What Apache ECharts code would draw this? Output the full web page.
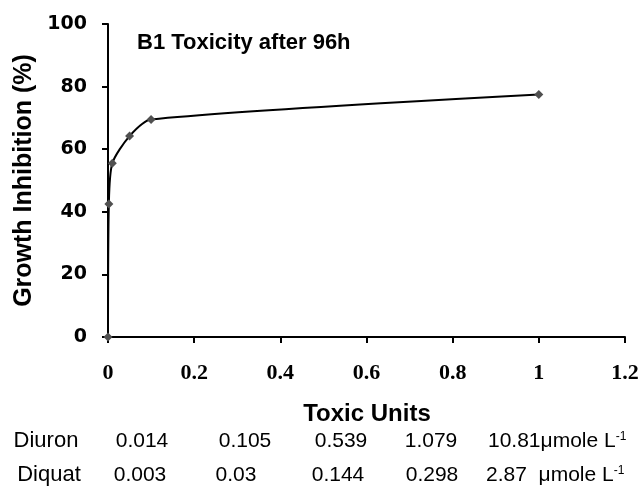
<!DOCTYPE html>
<html>
<head>
<meta charset="utf-8">
<script src="https://cdn.jsdelivr.net/npm/echarts@6/dist/echarts.min.js"></script>
<style>
html,body{margin:0;padding:0;background:#fff;}
#chart{width:643px;height:488px;}
</style>
</head>
<body>
<div id="chart"></div>
<script>
// Data
var toxicUnits = [0, 0.002, 0.01, 0.05, 0.1, 1];
var growthInhibition = [0, 42.5, 55.5, 64.2, 69.5, 77.5];
var xTicks = [0, 0.2, 0.4, 0.6, 0.8, 1, 1.2];
var yTicks = [0, 20, 40, 60, 80, 100];
var diuronConc = ['0.014', '0.105', '0.539', '1.079', '10.81'];
var diquatConc = ['0.003', '0.03', '0.144', '0.298', '2.87'];
var titleText = 'B1 Toxicity after 96h';
var xTitle = 'Toxic Units';
var yTitle = 'Growth Inhibition (%)';

var chart = echarts.init(document.getElementById('chart'), null, {renderer: 'canvas'});

var seriesData = toxicUnits.map(function (x, i) { return [x, growthInhibition[i]]; });

var rowFont = 'Liberation Sans, Arial, sans-serif';
var diuronX = [142, 245, 341, 431];
var diquatX = [140, 236, 338, 432];
var graphics = [];
function addText(txt, x, y, align, opts) {
  graphics.push({
    type: 'text', x: x, y: y,
    style: Object.assign({
      text: txt, fill: '#000', font: '21px ' + rowFont,
      textAlign: align, textVerticalAlign: 'middle'
    }, opts || {})
  });
}
addText(xTitle, 367, 414, 'center', {font: 'bold 24px ' + rowFont});
addText('Diuron', 46, 441, 'center', {font: '22px ' + rowFont});
addText('Diquat', 49, 475, 'center', {font: '22px ' + rowFont});
for (var i = 0; i < 4; i++) {
  addText(diuronConc[i], diuronX[i], 441, 'center');
  addText(diquatConc[i], diquatX[i], 475, 'center');
}
function unitText(val, gap) {
  return '{n|' + val + gap + '}{u|\u03bcmole L}{s|-1}';
}
var richStyle = {
  n: {fontSize: 21, fontFamily: rowFont, fill: '#000'},
  u: {fontSize: 21, fontFamily: rowFont, fill: '#000'},
  s: {fontSize: 12, fontFamily: rowFont, fill: '#000', verticalAlign: 'top', padding: [0, 0, 8, 0]}
};
graphics.push({type: 'text', x: 488, y: 441, style: {text: unitText(diuronConc[4], ''), rich: richStyle, textAlign: 'left', textVerticalAlign: 'middle'}});
graphics.push({type: 'text', x: 486, y: 475, style: {text: unitText(diquatConc[4], '  '), rich: richStyle, textAlign: 'left', textVerticalAlign: 'middle'}});

var option = {
  backgroundColor: '#fff',
  animation: false,
  title: {
    text: titleText,
    left: 132, top: 27,
    textStyle: {fontFamily: rowFont, fontWeight: 'bold', fontSize: 22, color: '#000'}
  },
  grid: {left: 108, right: 18, top: 24, bottom: 151},
  xAxis: {
    type: 'value', min: 0, max: 1.2, interval: 0.2,
    axisLine: {show: true, lineStyle: {color: '#000', width: 2}},
    axisTick: {show: true, inside: false, length: 6, lineStyle: {color: '#000', width: 2}},
    splitLine: {show: false},
    axisLabel: {
      margin: 25, color: '#000',
      fontFamily: 'Liberation Serif, Times New Roman, serif', fontWeight: 'bold', fontSize: 22,
      formatter: function (v) { return String(+v.toFixed(1)); }
    }
  },
  yAxis: {
    type: 'value', min: 0, max: 100, interval: 20,
    name: yTitle, nameLocation: 'middle', nameGap: 65, nameRotate: 90,
    nameTextStyle: {fontFamily: rowFont, fontWeight: 'bold', fontSize: 25, color: '#000'},
    axisLine: {show: true, lineStyle: {color: '#000', width: 2}},
    axisTick: {show: true, inside: false, length: 6, lineStyle: {color: '#000', width: 2}},
    splitLine: {show: false},
    axisLabel: {
      margin: 21, color: '#000',
      fontFamily: 'DejaVu Sans, sans-serif', fontWeight: 'bold', fontSize: 19
    }
  },
  series: [{
    type: 'line',
    data: seriesData,
    smooth: 0.25,
    symbol: 'diamond', symbolSize: 9,
    lineStyle: {color: '#000', width: 2},
    itemStyle: {color: '#505050', borderWidth: 0},
    z: 3
  }],
  graphic: graphics
};
chart.setOption(option);
</script>
</body>
</html>
